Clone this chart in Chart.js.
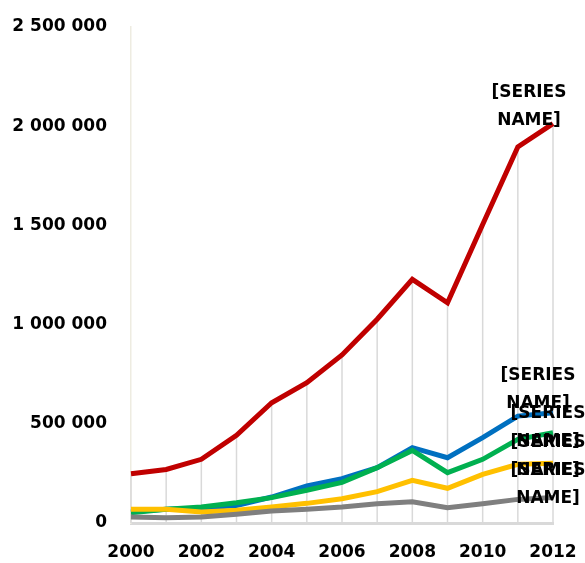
<!DOCTYPE html>
<html>
<head>
<meta charset="utf-8">
<script src="https://cdn.jsdelivr.net/npm/chart.js@4.4.0/dist/chart.umd.min.js"></script>
<style>
  html, body { margin: 0; padding: 0; background: #fff; }
  #box { width: 585px; height: 563px; }
</style>
</head>
<body>
<div id="box"><canvas id="wykres"></canvas></div>
<script>
// dane
var lata = ['2000','2001','2002','2003','2004','2005','2006','2007','2008','2009','2010','2011','2012'];
var etykietyX = ['2000','2002','2004','2006','2008','2010','2012'];
var seriaCzerwona = [248000, 270000, 321000, 442000, 606000, 707000, 847000, 1027000, 1228000, 1110000, 1505000, 1895000, 2013000];
var seriaNiebieska = [58000, 69000, 74000, 88000, 131000, 187000, 223000, 279000, 380000, 329000, 430000, 539000, 556000];
var seriaZielona = [52000, 69000, 81000, 102000, 128000, 165000, 205000, 279000, 366000, 254000, 321000, 422000, 455000];
var seriaZolta = [69000, 69000, 55000, 64000, 81000, 99000, 122000, 158000, 215000, 175000, 245000, 296000, 301000];
var seriaSzara = [30000, 27000, 30000, 44000, 60000, 69000, 81000, 97000, 107000, 77000, 97000, 119000, 128000];
var nazwySerii = ['[SERIES NAME]', '[SERIES NAME]', '[SERIES NAME]', '[SERIES NAME]', '[SERIES NAME]'];

var czcionka = '"DejaVu Sans", sans-serif';

function formatuj(v) {
  return String(v).replace(/\B(?=(\d{3})+(?!\d))/g, ' ');
}

// pionowe linie od najwyzszego punktu do osi
var liniePionowe = {
  id: 'liniePionowe',
  beforeDatasetsDraw: function (chart) {
    var ctx = chart.ctx;
    var dol = chart.scales.y.getPixelForValue(0);
    ctx.save();
    ctx.strokeStyle = '#d9d9d9';
    ctx.lineWidth = 1.5;
    for (var i = 0; i < lata.length; i++) {
      var najwyzej = dol;
      chart.data.datasets.forEach(function (ds, d) {
        var p = chart.getDatasetMeta(d).data[i];
        if (p && p.y < najwyzej) najwyzej = p.y;
      });
      var x = chart.scales.x.getPixelForValue(i);
      ctx.beginPath();
      ctx.moveTo(x, najwyzej);
      ctx.lineTo(x, dol);
      ctx.stroke();
    }
    ctx.restore();
  }
};

// etykiety na koncu serii
var etykietySerii = {
  id: 'etykietySerii',
  afterDatasetsDraw: function (chart) {
    var ctx = chart.ctx;
    ctx.save();
    ctx.font = 'bold 17px ' + czcionka;
    ctx.fillStyle = '#000';
    ctx.textAlign = 'center';
    ctx.textBaseline = 'middle';
    chart.data.datasets.forEach(function (ds, d) {
      var meta = chart.getDatasetMeta(d);
      var p = meta.data[meta.data.length - 1];
      var linie = ds.label.split(' ');
      var o = ds.przesuniecie;
      ctx.fillText(linie[0], p.x + o[0], p.y + o[1]);
      ctx.fillText(linie[1], p.x + o[0], p.y + o[1] + 28);
    });
    ctx.restore();
  }
};

function seria(label, dane, kolor, kolejnosc, przes) {
  return {
    label: label,
    data: dane,
    borderColor: kolor,
    backgroundColor: kolor,
    borderWidth: 5,
    pointRadius: 0,
    fill: false,
    tension: 0,
    order: kolejnosc,
    przesuniecie: przes
  };
}

var ctx = document.getElementById('wykres');
window.wykres = new Chart(ctx, {
  type: 'line',
  data: {
    labels: lata,
    datasets: [
      seria(nazwySerii[0], seriaCzerwona, '#C00000', 0, [-24, -31]),
      seria(nazwySerii[1], seriaNiebieska, '#0070C0', 4, [-15, -37]),
      seria(nazwySerii[2], seriaZielona, '#00B050', 3, [-5, -19]),
      seria(nazwySerii[3], seriaZolta, '#FFC000', 2, [-5, -21]),
      seria(nazwySerii[4], seriaSzara, '#7F7F7F', 1, [-5, -27])
    ]
  },
  plugins: [liniePionowe, etykietySerii],
  options: {
    responsive: true,
    maintainAspectRatio: false,
    animation: false,
    layout: { padding: { top: 27, right: 32, left: 0, bottom: 0 } },
    plugins: {
      legend: { display: false },
      tooltip: { enabled: false }
    },
    elements: { line: { borderCapStyle: 'butt', borderJoinStyle: 'miter' } },
    scales: {
      x: {
        offset: false,
        grid: { display: false, drawTicks: false },
        border: { display: true, color: '#d9d9d9', width: 3 },
        ticks: {
          autoSkip: false,
          maxRotation: 0,
          padding: 19,
          color: '#000',
          font: { family: czcionka, size: 17, weight: 'bold' },
          callback: function (v, i) {
            return etykietyX.indexOf(lata[i]) >= 0 ? lata[i] : '';
          }
        },
        afterFit: function (s) {
          s.height = 40;
          s.paddingLeft = 0;
          s.paddingRight = 0;
        }
      },
      y: {
        min: 0,
        max: 2500000,
        grid: { display: false, drawTicks: false },
        border: { display: true, color: '#eeece1', width: 1.5 },
        ticks: {
          stepSize: 500000,
          padding: 24,
          color: '#000',
          font: { family: czcionka, size: 17, weight: 'bold' },
          callback: function (v) { return formatuj(v); }
        },
        afterFit: function (s) {
          s.width = 131;
          s.paddingTop = 0;
          s.paddingBottom = 0;
        }
      }
    }
  }
});
</script>
</body>
</html>
